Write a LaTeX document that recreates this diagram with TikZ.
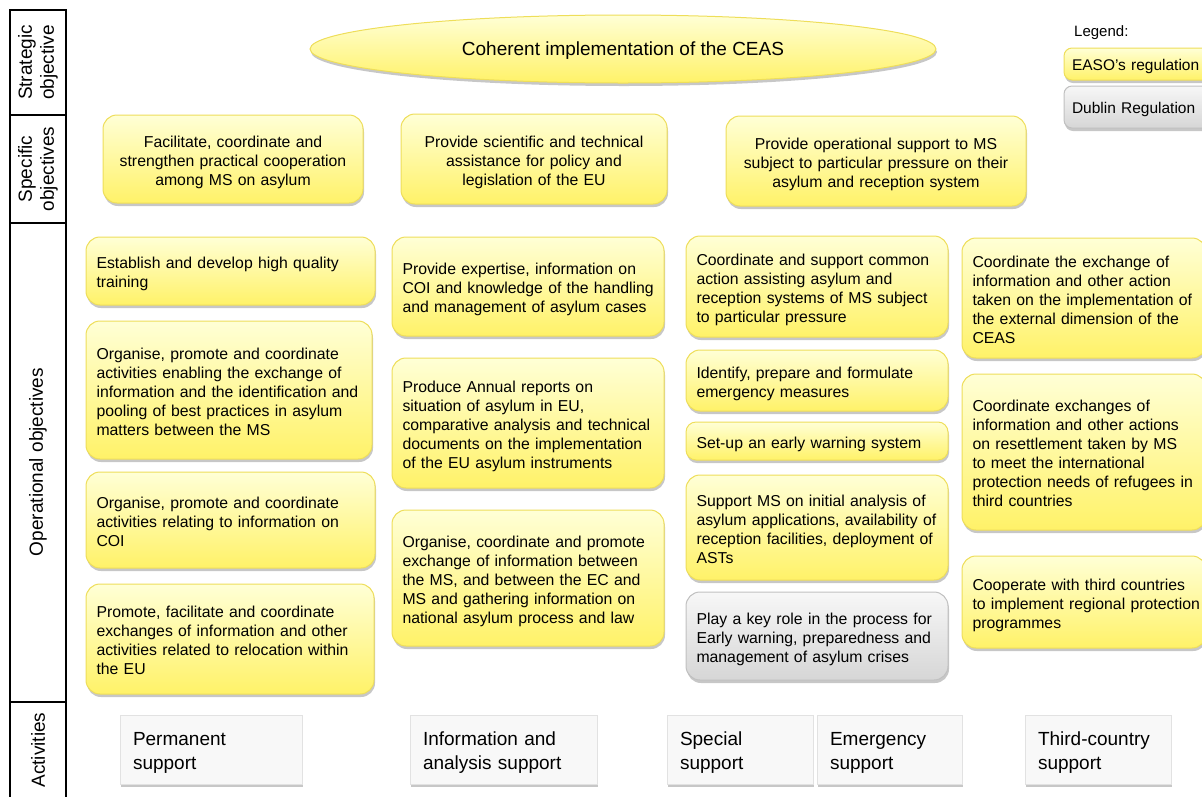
\documentclass[tikz,border=0pt]{standalone}
\usepackage{fontspec}
\setmainfont{Liberation Sans}
\usetikzlibrary{shapes.geometric,shadows}
\definecolor{ytop}{RGB}{255,255,214}
\definecolor{ybot}{RGB}{255,242,104}
\definecolor{yline}{RGB}{238,222,90}
\definecolor{gtop}{RGB}{247,247,247}
\definecolor{gbot}{RGB}{214,214,214}
\definecolor{gline}{RGB}{192,192,192}
\definecolor{aline}{RGB}{226,226,226}
\definecolor{afill}{RGB}{248,248,248}
\newcommand\tl[1]{\raisebox{-3.5pt}[\height][\depth]{\begin{tabular}{@{}l@{}}#1\end{tabular}}}
\newcommand\tc[1]{\raisebox{-3.5pt}[\height][\depth]{\begin{tabular}{@{}c@{}}#1\end{tabular}}}
\newcommand\tlow[2]{\raisebox{-#1}[\height][\depth]{#2}}
\tikzset{
  shad/.style={drop shadow={shadow xshift=1pt, shadow yshift=-3pt, fill=black, opacity=0.22}},
  ybox/.style={shad, draw=yline, line width=1pt, rounded corners=14pt,
    top color=ytop, bottom color=ybot, font=\fontsize{15.8}{19}\selectfont,
    inner xsep=10.5pt, inner ysep=0pt, align=left},
  gbox/.style={ybox, draw=gline, top color=gtop, bottom color=gbot},
  sbox/.style={ybox, align=center},
  abox/.style={shad, draw=aline, line width=0.8pt, fill=afill,
    font=\fontsize{19}{24}\selectfont, inner xsep=13pt, inner ysep=0pt, align=left,
    minimum height=69pt},
  leg/.style={shad, draw=yline, line width=1pt, rounded corners=8pt,
    top color=ytop, bottom color=ybot, font=\fontsize{15.5}{18}\selectfont,
    inner xsep=8pt, inner ysep=0pt, align=left, minimum width=151pt, text width=135pt},
  rowlab/.style={rotate=90, align=center, font=\fontsize{19}{22}\selectfont},
  frame/.style={draw=black, line width=1.3pt}
}
\begin{document}
\begin{tikzpicture}[x=1pt, y=-1pt]
\useasboundingbox (0,0) rectangle (1202,796);

% left row labels
\draw[frame] (10,10) rectangle (66,115);
\draw[frame] (10,115) rectangle (66,223);
\draw[frame] (10,223) rectangle (66,702);
\draw[frame] (10,810) -- (10,702) -- (66,702) -- (66,810);
\node[rowlab] (lab1) at (38,62.5) {Strategic\\objective};
\node[rowlab] (lab2) at (38,169) {Specific\\objectives};
\node[rowlab] (lab3) at (38,462) {Operational objectives};
\node[rowlab] (lab4) at (38,750) {Activities};

% strategic objective
\node[ellipse, shad, draw=yline, line width=1pt, top color=ytop, bottom color=ybot,
  minimum width=626pt, minimum height=68pt, inner sep=0pt,
  font=\fontsize{19}{22}\selectfont] (so) at (623,49) {\tlow{2pt}{Coherent implementation of the CEAS}};

% legend
\node[anchor=west, font=\fontsize{15}{18}\selectfont, inner sep=0pt] (legt) at (1074,33) {Legend:};
\node[leg, minimum height=32pt] (leg1) at (1139.5,64) {\tlow{2pt}{EASO's regulation}};
\node[leg, draw=gline, top color=gtop, bottom color=gbot, minimum height=42pt] (leg2) at (1139.5,107) {\tlow{2pt}{Dublin Regulation}};

% specific objectives
\node[sbox, minimum width=260pt, minimum height=88pt, text width=239pt] (s1) at (233,159)
  {\tc{Facilitate, coordinate and\\strengthen practical cooperation\\among MS on asylum}};
\node[sbox, minimum width=266pt, minimum height=90pt, text width=245pt] (s2) at (534,159)
  {\tc{Provide scientific and technical\\assistance for policy and\\legislation of the EU}};
\node[sbox, minimum width=300pt, minimum height=90pt, text width=279pt] (s3) at (876,161)
  {\tc{Provide operational support to MS\\subject to particular pressure on their\\asylum and reception system}};

% operational objectives, column 1
\node[ybox, minimum width=289pt, minimum height=68pt, text width=268pt] (o1a) at (230.5,271)
  {\tl{Establish and develop high quality\\training}};
\node[ybox, minimum width=286pt, minimum height=138pt, text width=265pt] (o1b) at (229,390)
  {\tl{Organise, promote and coordinate\\activities enabling the exchange of\\information and the identification and\\pooling of best practices in asylum\\matters between the MS}};
\node[ybox, minimum width=289pt, minimum height=96pt, text width=268pt] (o1c) at (230.5,520)
  {\tl{Organise, promote and coordinate\\activities relating to information on\\COI}};
\node[ybox, minimum width=288pt, minimum height=110pt, text width=267pt] (o1d) at (230,639)
  {\tl{Promote, facilitate and coordinate\\exchanges of information and other\\activities related to relocation within\\the EU}};

% column 2
\node[ybox, minimum width=272pt, minimum height=99pt, text width=251pt] (o2a) at (528,286.5)
  {\tl{Provide expertise, information on\\COI and knowledge of the handling\\and management of asylum cases}};
\node[ybox, minimum width=272pt, minimum height=130pt, text width=251pt] (o2b) at (528,423)
  {\tl{Produce Annual reports on\\situation of asylum in EU,\\comparative analysis and technical\\documents on the implementation\\of the EU asylum instruments}};
\node[ybox, minimum width=272pt, minimum height=136pt, text width=251pt] (o2c) at (528,578)
  {\tl{Organise, coordinate and promote\\exchange of information between\\the MS, and between the EC and\\MS and gathering information on\\national asylum process and law}};

% column 3
\node[ybox, minimum width=262pt, minimum height=101pt, text width=241pt] (o3a) at (817,286.5)
  {\tl{Coordinate and support common\\action assisting asylum and\\reception systems of MS subject\\to particular pressure}};
\node[ybox, minimum width=262pt, minimum height=61pt, text width=241pt] (o3b) at (817,380.5)
  {\tl{Identify, prepare and formulate\\emergency measures}};
\node[ybox, minimum width=262pt, minimum height=38pt, text width=241pt, rounded corners=10pt] (o3c) at (817,441)
  {\tl{Set-up an early warning system}};
\node[ybox, minimum width=262pt, minimum height=105pt, text width=241pt] (o3d) at (817,527.5)
  {\tl{Support MS on initial analysis of\\asylum applications, availability of\\reception facilities, deployment of\\ASTs}};
\node[gbox, minimum width=262pt, minimum height=88pt, text width=241pt] (o3e) at (817,636)
  {\tl{Play a key role in the process for\\Early warning, preparedness and\\management of asylum crises}};

% column 4
\node[ybox, minimum width=244pt, minimum height=120pt, text width=223pt] (o4a) at (1084,298)
  {\tl{Coordinate the exchange of\\information and other action\\taken on the implementation of\\the external dimension of the\\CEAS}};
\node[ybox, minimum width=244pt, minimum height=156pt, text width=223pt] (o4b) at (1084,452)
  {\tl{Coordinate exchanges of\\information and other actions\\on resettlement taken by MS\\to meet the international\\protection needs of refugees in\\third countries}};
\node[ybox, minimum width=244pt, minimum height=92pt, text width=223pt] (o4c) at (1084,602)
  {\tl{Cooperate with third countries\\to implement regional protection\\programmes}};

% activities
\node[abox, minimum width=182pt, text width=156pt] (a1) at (211,749.5) {\tl{Permanent\\support}};
\node[abox, minimum width=187pt, text width=161pt] (a2) at (503.5,749.5) {\tl{Information and\\analysis support}};
\node[abox, minimum width=146pt, text width=120pt] (a3) at (740,749.5) {\tl{Special\\support}};
\node[abox, minimum width=145pt, text width=119pt] (a4) at (889.5,749.5) {\tl{Emergency\\support}};
\node[abox, minimum width=146pt, text width=120pt] (a5) at (1098,749.5) {\tl{Third-country\\support}};
\end{tikzpicture}
\end{document}
